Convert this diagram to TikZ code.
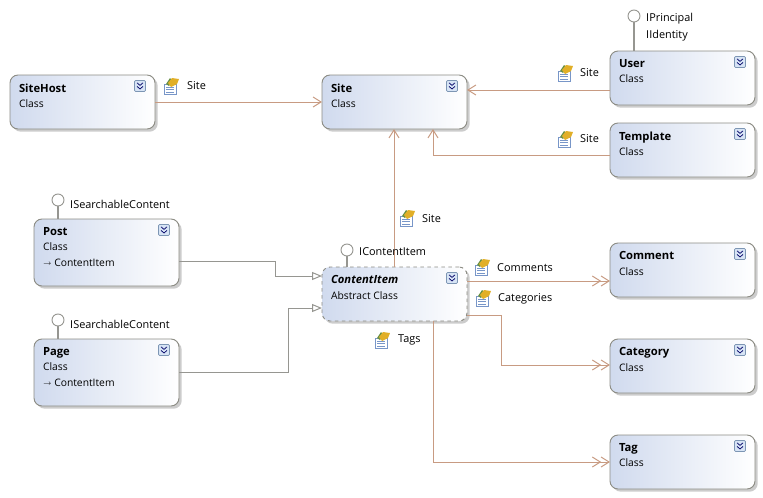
\documentclass[tikz,border=0pt]{standalone}
\usepackage{fontspec}
\setmainfont{Open Sans}
\usetikzlibrary{arrows.meta, calc, positioning, shadows}
\definecolor{cajaAzul}{RGB}{208,218,238}
\definecolor{bordeGris}{RGB}{140,140,132}
\definecolor{lineaCafe}{RGB}{200,155,130}
\definecolor{lineaGris}{RGB}{150,150,145}
\definecolor{botonAzul}{RGB}{215,228,245}
\definecolor{botonBorde}{RGB}{125,150,180}
\definecolor{iconoOro}{RGB}{225,175,40}
\definecolor{iconoVerde}{RGB}{105,145,70}
\definecolor{iconoAzul}{RGB}{120,150,200}

\tikzset{
    classBox/.style={draw=bordeGris, line width=0.8pt, rounded corners=2.4mm,
        left color=cajaAzul, right color=white, anchor=north west,
        minimum width=4.35cm, inner sep=0pt, outer sep=0pt,
        drop shadow={shadow xshift=0.08cm, shadow yshift=-0.08cm, opacity=0.2, fill=black}},
    assocLine/.style={draw=lineaCafe, line width=0.85pt, -{Straight Barb[length=2.4mm, width=3mm]}},
    manyLine/.style={draw=lineaCafe, line width=0.85pt,
        -{Straight Barb[length=2.4mm, width=3mm, sep=-0.2mm] Straight Barb[length=2.4mm, width=3mm]}},
    inheritLine/.style={draw=lineaGris, line width=0.85pt, -{Triangle[open, fill=white, length=3mm, width=2.4mm]}},
    lolliLine/.style={draw=lineaGris, line width=1pt},
    lolliHead/.style={circle, draw=lineaGris, fill=white, line width=0.8pt, minimum size=3.6mm, inner sep=0pt},
    tagText/.style={font=\fontsize{9.3}{10}\selectfont, anchor=west, inner sep=0pt},
    boton/.pic={
        \draw[botonBorde, fill=botonAzul, rounded corners=1pt, line width=0.6pt] (-5.5,-5.5) rectangle (5.5,5.5);
        \draw[black!60!blue, line width=0.6pt] (-3,-3.2) -- (0,-0.6) -- (3,-3.2) (-3,0.4) -- (0,3) -- (3,0.4);
    },
    propIcono/.pic={
        \fill[white, draw=iconoAzul, line width=0.4pt] (-7,-2) rectangle (5,8);
        \draw[iconoAzul, line width=0.5pt] (-5,1) -- (3,1) (-5,3.5) -- (3,3.5) (-5,6) -- (3,6);
        \fill[iconoVerde] (-5,-2) -- (-1,-8) -- (2,-5) -- (-2,0) -- cycle;
        \fill[iconoOro] (-3,-3) -- (1,-8) -- (8,-7) -- (6,-2) -- (0,1) -- cycle;
    }
}

% Caja de clase: nombre, x, y, alto, titulo, lineas
\newcommand{\claseCaja}[7][]{%
    \node[classBox, minimum height=\dimexpr 0.03cm*#5\relax, #1] (#2) at (#3,#4)
        {\parbox[c][\dimexpr 0.03cm*#5\relax][t]{4.35cm}{\fontsize{8.8}{13}\selectfont
        \vspace*{0.26cm}\leftskip=0.27cm\relax {\fontsize{9.6}{13}\selectfont\bfseries #6}\\ #7}};
    \pic at ($(#2.north east)+(-15,11)$) {boton};
}

\begin{document}
\begin{tikzpicture}[x=0.03cm, y=-0.03cm]
    \useasboundingbox (0,0) rectangle (763,497);

    % 1. CAJAS
    \claseCaja{siteHost}{10}{75}{54}{SiteHost}{Class}
    \claseCaja{site}{322}{75}{54}{Site}{Class}
    \claseCaja{user}{610}{51}{54}{User}{Class}
    \claseCaja{template}{610}{123}{54}{Template}{Class}
    \claseCaja{post}{34}{219}{67}{Post}{Class\\ \raisebox{0.3pt}{$\scriptstyle\rightarrow$} ContentItem}
    \claseCaja{page}{34}{339}{67}{Page}{Class\\ \raisebox{0.3pt}{$\scriptstyle\rightarrow$} ContentItem}
    \claseCaja[dashed]{contentItem}{322}{267}{54}{\itshape ContentItem}{Abstract Class}
    \claseCaja{comment}{610}{243}{54}{Comment}{Class}
    \claseCaja{category}{610}{339}{54}{Category}{Class}
    \claseCaja{tag}{610}{435}{54}{Tag}{Class}

    % 2. ASOCIACIONES
    \draw[assocLine] (siteHost.east) -- (site.west);
    \draw[assocLine] (user.west |- 0,90) -- (site.east |- 0,90);
    \draw[assocLine] (template.west |- 0,155) -- (433,155) -- (433,129);
    \draw[assocLine] (contentItem.north -| 394,0) -- (site.south -| 394,0);
    \draw[manyLine] (contentItem.east |- 0,281) -- (comment.west |- 0,281);
    \draw[manyLine] (contentItem.east |- 0,315) -- (501,315) -- (501,365) -- (category.west |- 0,365);
    \draw[manyLine] (contentItem.south -| 433,0) -- (433,462) -- (tag.west |- 0,462);

    % 3. HERENCIA
    \draw[inheritLine] (post.east |- 0,261) -- (275,261) -- (275,276) -- (contentItem.west |- 0,276);
    \draw[inheritLine] (page.east |- 0,372) -- (288,372) -- (288,308) -- (contentItem.west |- 0,308);

    % 4. INTERFACES
    \node[lolliHead] (lolliUser) at (634,16) {};
    \draw[lolliLine] (lolliUser) -- (user.north -| lolliUser);
    \node[lolliHead] (lolliPost) at (58,200) {};
    \draw[lolliLine] (lolliPost) -- (post.north -| lolliPost);
    \node[lolliHead] (lolliPage) at (58,320) {};
    \draw[lolliLine] (lolliPage) -- (page.north -| lolliPage);
    \node[lolliHead] (lolliItem) at (347,250) {};
    \draw[lolliLine] (lolliItem) -- (contentItem.north -| lolliItem);
    \node[tagText] (txtPrincipal) at (646,19) {IPrincipal};
    \node[tagText] (txtIdentity) at (646,36) {IIdentity};
    \node[tagText] (txtPost) at (70,204) {ISearchableContent};
    \node[tagText] (txtPage) at (70,324) {ISearchableContent};
    \node[tagText] (txtItem) at (359,252) {IContentItem};

    % 5. PROPIEDADES
    \pic at (171,86) {propIcono};
    \node[tagText] (propHost) at (187,86) {Site};
    \pic at (565,73) {propIcono};
    \node[tagText] (propUser) at (580,73) {Site};
    \pic at (565,139) {propIcono};
    \node[tagText] (propTemplate) at (580,139) {Site};
    \pic at (407,218) {propIcono};
    \node[tagText] (propItem) at (422,219) {Site};
    \pic at (482,267) {propIcono};
    \node[tagText] (propComments) at (497,268) {Comments};
    \pic at (483,298) {propIcono};
    \node[tagText] (propCategories) at (498,299) {Categories};
    \pic at (382,340) {propIcono};
    \node[tagText] (propTags) at (398,340) {Tags};
\end{tikzpicture}
\end{document}
